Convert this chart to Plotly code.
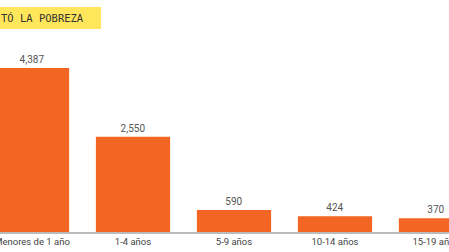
import plotly.graph_objects as go

categories = ["Menores de 1 año", "1-4 años", "5-9 años", "10-14 años", "15-19 años"]
values = [4387, 2550, 590, 424, 370]
title_text = "TÓ LA POBREZA"

W, H = 449, 252
T, B = 40, 20
plot_h = H - T - B
ymax = plot_h * 4387 / 164

fig = go.Figure(go.Bar(
    x=categories, y=values,
    marker=dict(color="#F26522", line=dict(width=0)),
    width=0.735,
    texttemplate="%{y:,}", textposition="outside",
    textfont=dict(family="Roboto", size=10, color="#555555"),
    cliponaxis=False,
))

fig.update_layout(
    width=W, height=H,
    margin=dict(l=0, r=0, t=T, b=B, autoexpand=False),
    paper_bgcolor="white", plot_bgcolor="white",
    showlegend=False,
    xaxis=dict(range=[-0.317, 4.129], showline=True, linecolor="#BBBBBB", linewidth=2,
               ticks="", showgrid=False, zeroline=False, automargin=False,
               tickfont=dict(family="Roboto", size=9.5, color="#444444")),
    yaxis=dict(range=[0, ymax], visible=False, showgrid=False, zeroline=False, automargin=False),
    shapes=[dict(type="rect", xref="paper", yref="paper",
                 x0=0, x1=101 / W, y0=(H - B - 29) / plot_h, y1=(H - B - 7) / plot_h,
                 fillcolor="#FFE65A", line=dict(width=0), layer="below")],
    annotations=[dict(text=title_text, xref="paper", yref="paper",
                      x=-1 / W, y=(H - B - 18) / plot_h, xanchor="left", yanchor="middle",
                      showarrow=False,
                      font=dict(family="DejaVu Sans Mono", size=10.5, color="#333333"))],
)

fig.write_html("out.html")
